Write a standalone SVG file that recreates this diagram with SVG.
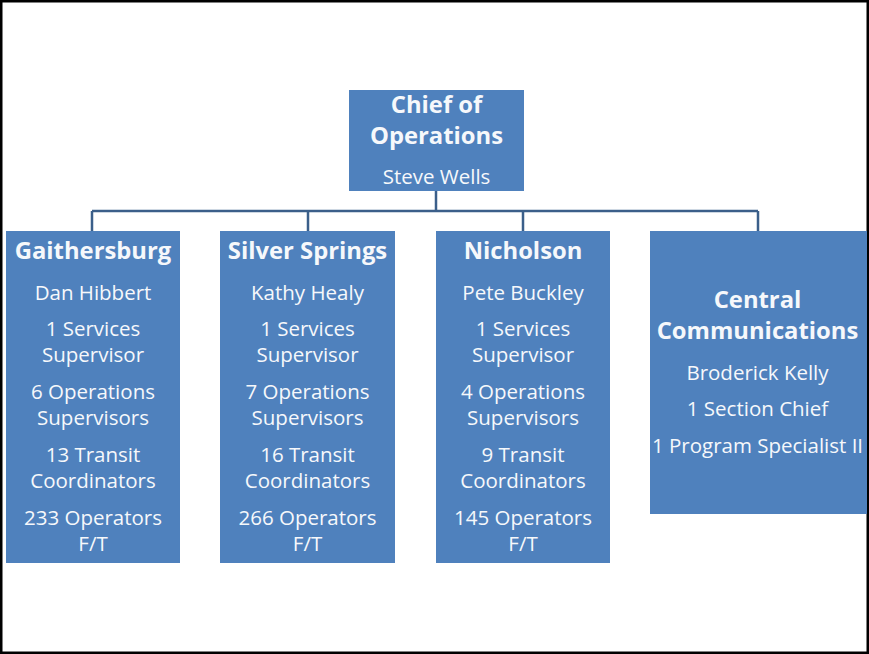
<svg xmlns="http://www.w3.org/2000/svg" width="869" height="654" viewBox="0 0 869 654">
  <style>
    .box { fill: #4f81bd; }
    .t { font-family: "Open Sans", "Liberation Sans", sans-serif; fill: #f6f8fb; text-anchor: middle; font-size: 20.5px; }
    .h { font-weight: bold; font-size: 23.8px; }
    .link { stroke: #3b5f8a; stroke-width: 2.5; fill: none; }
  </style>
  <rect x="0" y="0" width="869" height="654" fill="#ffffff"/>
  <rect x="1.25" y="1.25" width="866.5" height="651.5" fill="none" stroke="#000000" stroke-width="2.5"/>

  <g id="connectors">
    <path class="link" d="M436,191 V211"/>
    <path class="link" d="M92,211 H758"/>
    <path class="link" d="M92,211 V231 M308,211 V231 M523,211 V231 M758,211 V231"/>
  </g>

  <g id="chief">
    <rect class="box" x="349" y="90" width="175" height="101"/>
    <text class="t h" x="436.5" y="113">Chief of</text>
    <text class="t h" x="436.5" y="144">Operations</text>
    <text class="t" x="436.5" y="184">Steve Wells</text>
  </g>

  <g id="gaithersburg">
    <rect class="box" x="6" y="231" width="174" height="332"/>
    <text class="t h" x="93" y="259">Gaithersburg</text>
    <text class="t" x="93" y="300">Dan Hibbert</text>
    <text class="t" x="93" y="336">1 Services</text>
    <text class="t" x="93" y="362">Supervisor</text>
    <text class="t" x="93" y="399">6 Operations</text>
    <text class="t" x="93" y="425">Supervisors</text>
    <text class="t" x="93" y="462">13 Transit</text>
    <text class="t" x="93" y="488">Coordinators</text>
    <text class="t" x="93" y="525">233 Operators</text>
    <text class="t" x="93" y="551">F/T</text>
  </g>

  <g id="silver-springs">
    <rect class="box" x="220" y="231" width="175" height="332"/>
    <text class="t h" x="307.5" y="259">Silver Springs</text>
    <text class="t" x="307.5" y="300">Kathy Healy</text>
    <text class="t" x="307.5" y="336">1 Services</text>
    <text class="t" x="307.5" y="362">Supervisor</text>
    <text class="t" x="307.5" y="399">7 Operations</text>
    <text class="t" x="307.5" y="425">Supervisors</text>
    <text class="t" x="307.5" y="462">16 Transit</text>
    <text class="t" x="307.5" y="488">Coordinators</text>
    <text class="t" x="307.5" y="525">266 Operators</text>
    <text class="t" x="307.5" y="551">F/T</text>
  </g>

  <g id="nicholson">
    <rect class="box" x="436" y="231" width="174" height="332"/>
    <text class="t h" x="523" y="259">Nicholson</text>
    <text class="t" x="523" y="300">Pete Buckley</text>
    <text class="t" x="523" y="336">1 Services</text>
    <text class="t" x="523" y="362">Supervisor</text>
    <text class="t" x="523" y="399">4 Operations</text>
    <text class="t" x="523" y="425">Supervisors</text>
    <text class="t" x="523" y="462">9 Transit</text>
    <text class="t" x="523" y="488">Coordinators</text>
    <text class="t" x="523" y="525">145 Operators</text>
    <text class="t" x="523" y="551">F/T</text>
  </g>

  <g id="central-communications">
    <rect class="box" x="650" y="231" width="217" height="283"/>
    <text class="t h" x="757.5" y="308">Central</text>
    <text class="t h" x="757.5" y="339">Communications</text>
    <text class="t" x="757.5" y="380">Broderick Kelly</text>
    <text class="t" x="757.5" y="416">1 Section Chief</text>
    <text class="t" x="757.5" y="453">1 Program Specialist II</text>
  </g>
</svg>
